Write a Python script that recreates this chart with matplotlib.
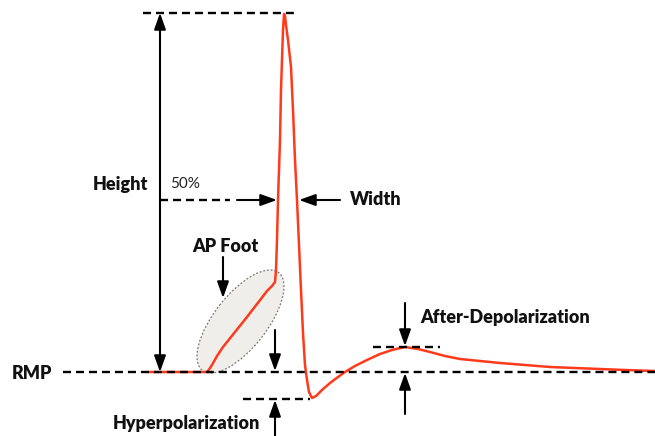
import matplotlib
matplotlib.use("Agg")
import matplotlib.pyplot as plt
from matplotlib.patches import Ellipse

# Action potential trace (x = time position, y = voltage position, screen units)
trace_x = [148, 206, 208, 212, 217, 223, 235, 247, 257, 267, 272, 275, 276, 277,
           278, 280, 281, 282, 283, 284, 285, 286, 288, 291, 293, 295, 297, 299, 301,
           303, 305, 307, 309, 312, 316, 322, 330, 338, 345, 355, 367, 380, 392, 405,
           418, 430, 445, 460, 480, 500, 525, 550, 575, 600, 625, 655]
trace_y = [372, 372, 371, 365, 356, 347, 332, 317, 304, 291, 286, 282, 270, 240,
           200, 140, 90, 60, 30, 14, 16, 25, 40, 67, 110, 160, 200, 245, 290,
           333, 365, 380, 392, 398, 396, 390, 383, 377, 372, 366, 360, 354, 350, 347,
           349, 352, 356, 359, 361, 363, 365, 367, 368, 369, 370, 371]

# Reference levels
rmp_level = 372
peak_level = 13
half_level = 200
hyper_level = 399
adp_level = 347

labels = {
    "Height": (93, 184),
    "Width": (350, 199),
    "AP Foot": (192, 246),
    "RMP": (12, 373),
    "Hyperpolarization": (113, 423),
    "After-Depolarization": (420, 317),
}

fig = plt.figure(figsize=(6.55, 4.36), dpi=100)
ax = fig.add_axes([0, 0, 1, 1])
ax.set_xlim(0, 655)
ax.set_ylim(436, 0)
ax.axis("off")

red = "#ff3a1c"

# Ellipse around AP foot
ell = Ellipse((240.5, 321.5), width=124, height=53, angle=-52,
              facecolor="#efeeea", edgecolor="#777777", lw=0.9, ls=(0, (1.5, 1.5)), zorder=1)
ax.add_patch(ell)

# Trace
ax.plot(trace_x, trace_y, color=red, lw=1.8, zorder=2, solid_joinstyle="round")

dash = dict(color="black", lw=1.7, dashes=(3.4, 2.1), zorder=3)
ax.plot([63, 655], [rmp_level, rmp_level], **dash)
ax.plot([143, 298], [peak_level, peak_level], **dash)
ax.plot([160, 230], [half_level, half_level], **dash)
ax.plot([243, 310], [hyper_level, hyper_level], **dash)
ax.plot([373, 440], [adp_level, adp_level], **dash)

def arrow(tail, tip, style="-|>"):
    ax.annotate("", xy=tip, xytext=tail,
                arrowprops=dict(arrowstyle=style + ",head_length=0.7,head_width=0.25",
                                color="black", lw=1.5, shrinkA=0, shrinkB=0,
                                mutation_scale=14), zorder=4)

arrow((160, rmp_level), (160, peak_level), style="<|-|>")
arrow((237, half_level), (277, half_level))
arrow((340, half_level), (299, half_level))
arrow((223, 257), (223, 298))
arrow((275, 330), (275, 371))
arrow((275, 436), (275, 400))
arrow((405, 303), (405, 346))
arrow((405, 414), (405, 373))

for txt, (x, y) in labels.items():
    ax.text(x, y, txt, ha="left", va="center", fontsize=13, fontweight="heavy",
            family=["Lato", "DejaVu Sans"], color="#111111")
ax.text(170, 184, "50%", ha="left", va="center", fontsize=11,
        family=["Lato", "DejaVu Sans"], color="#222222")

fig.savefig("out.png", dpi=100)
